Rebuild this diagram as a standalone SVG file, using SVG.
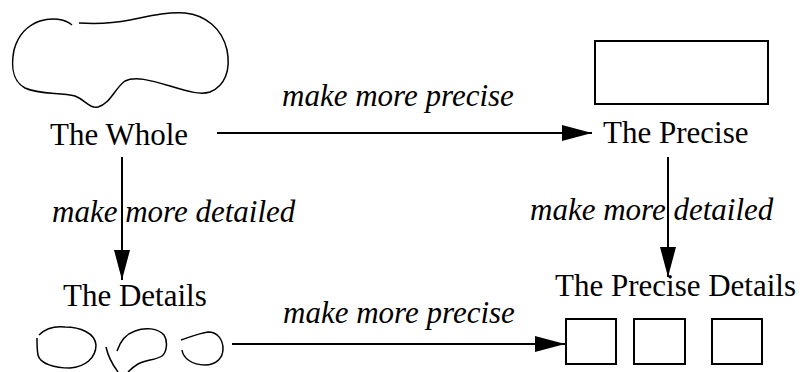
<svg xmlns="http://www.w3.org/2000/svg" width="800" height="372" viewBox="0 0 800 372">
<style>
.lbl{font-family:"Liberation Serif","Times New Roman",serif;font-size:31px;fill:#000}
.it{font-family:"Liberation Serif","Times New Roman",serif;font-size:31px;font-style:italic;fill:#000}
.sh{fill:none;stroke:#000;stroke-width:1.5}
.bx{fill:none;stroke:#000;stroke-width:2}
.ln{fill:none;stroke:#000;stroke-width:2}
</style>
<defs>
<marker id="ah" markerWidth="30" markerHeight="16" refX="30" refY="8" orient="auto" markerUnits="userSpaceOnUse">
<path d="M0,0 L30,8 L0,16 Z" fill="#000"/>
</marker>
</defs>
<rect width="800" height="372" fill="#fff"/>
<g id="whole">
<path class="sh" d="M79,23 C95,24 115,23 130,20 C150,16 165,12 185,13 C205,15 222,28 227,50 C231,70 225,86 210,92 C200,95 190,92 170,86 C150,80 135,76 125,81 C115,88 110,104 98,107 C90,109 85,100 75,96 C60,92 40,95 25,88 C10,80 12,60 14,50 C18,35 28,25 40,21 C52,17 65,19 72,25"/>
<text class="lbl" x="50" y="145">The Whole</text>
</g>
<g id="precise">
<rect class="bx" x="595" y="41" width="173" height="63"/>
<text class="lbl" x="603" y="143">The Precise</text>
</g>
<g id="details">
<text class="lbl" x="63" y="306">The Details</text>
<path class="sh" d="M39,335 C45,329 55,326 65,327 C80,327 95,333 96,345 C96,358 85,367 70,368 C55,368 40,364 38,355 C37,350 37,345 37,338"/>
<path class="sh" d="M106,347 C108,356 112,364 118,372"/>
<path class="sh" d="M117,351 C120,342 126,334 135,331 C145,327 158,328 164,335 C168,341 167,352 162,356 C156,360 145,360 138,364 C133,367 130,370 128,372"/>
<path class="sh" d="M181,340 C190,337 200,333 208,332 C218,332 223,340 223,349 C223,358 216,365 205,365 C192,365 183,358 182,350"/>
</g>
<g id="precisedetails">
<text class="lbl" x="555" y="296">The Precise Details</text>
<rect class="bx" x="566" y="319" width="50" height="45"/>
<rect class="bx" x="634" y="319" width="51" height="45"/>
<rect class="bx" x="712" y="319" width="50" height="45"/>
</g>
<g id="connectors">
<line class="ln" x1="217" y1="133" x2="592" y2="133" marker-end="url(#ah)"/>
<line class="ln" x1="122" y1="157" x2="122" y2="280" marker-end="url(#ah)"/>
<line class="ln" x1="668" y1="157" x2="668" y2="277" marker-end="url(#ah)"/>
<line class="ln" x1="232" y1="344" x2="565" y2="344" marker-end="url(#ah)"/>
<text class="it" x="282" y="106">make more precise</text>
<text class="it" x="52" y="222">make more detailed</text>
<text class="it" x="530" y="220">make more detailed</text>
<text class="it" x="283" y="323">make more precise</text>
</g>
</svg>
